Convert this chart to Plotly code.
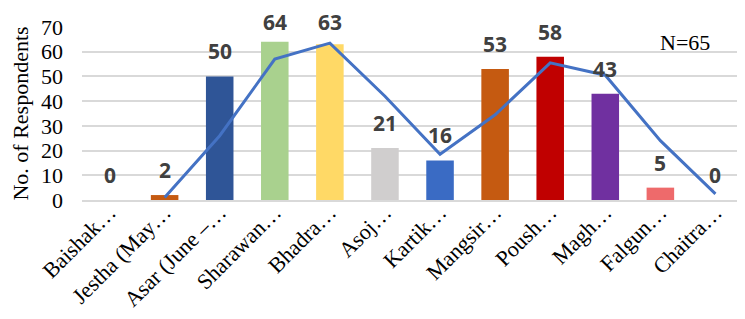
import plotly.graph_objects as go

categories = ["Baishak…", "Jestha (May…", "Asar (June –…", "Sharawan…", "Bhadra…", "Asoj…",
              "Kartik…", "Mangsir…", "Poush…", "Magh…", "Falgun…", "Chaitra…"]
respondents = [0, 2, 50, 64, 63, 21, 16, 53, 58, 43, 5, 0]
trend_cats = categories[1:]
trend_values = [1, 26, 57, 63.5, 42, 18.5, 34.5, 55.5, 50.5, 24, 2.5]
bar_colors = ["#C55A11", "#C55A11", "#2F5597", "#A9D18E", "#FFD966", "#D0CECE",
              "#3A6BC4", "#C55A11", "#C00000", "#7030A0", "#EE6A6B", "#C55A11"]

Y_MAX = 70
PLOT_H = 173  # px height of plot area

fig = go.Figure()
fig.add_trace(go.Bar(x=categories, y=respondents, marker=dict(color=bar_colors, line=dict(width=0)),
                     width=0.5, showlegend=False))
fig.add_trace(go.Scatter(x=trend_cats, y=trend_values, mode="lines",
                         line=dict(color="#4472C4", width=3), showlegend=False))

for c, v in zip(categories, respondents):
    shift = min(25, 5 + (Y_MAX - v) * PLOT_H / Y_MAX)
    fig.add_annotation(x=c, y=v, text=f"<b>{v}</b>", showarrow=False, yshift=shift,
                       font=dict(family="Open Sans", size=21, color="#404040"))

fig.add_annotation(x=0.912, y=0.913, xref="paper", yref="paper", text="N=65", showarrow=False,
                   xanchor="center", yanchor="middle",
                   font=dict(family="Liberation Serif", size=22, color="black"))

fig.update_layout(
    width=737, height=311,
    margin=dict(l=74, r=2, t=19, b=119),
    plot_bgcolor="white", paper_bgcolor="white",
    bargap=0.5,
    xaxis=dict(tickangle=-45, tickfont=dict(family="Liberation Serif", size=22, color="black"),
               showgrid=False, showline=True, linecolor="#D9D9D9", linewidth=1.5, ticks="",
               automargin=False, ticklabelstandoff=-11),
    yaxis=dict(range=[0, Y_MAX], dtick=10, showgrid=True, gridcolor="#D9D9D9", gridwidth=1.5,
               zeroline=False, automargin=False, ticklabelstandoff=18,
               tickfont=dict(family="Liberation Serif", size=22, color="black"),
               title=dict(text="No. of Respondents", font=dict(family="Liberation Serif", size=22, color="black"),
                          standoff=10)),
)

fig.write_html("out.html")
